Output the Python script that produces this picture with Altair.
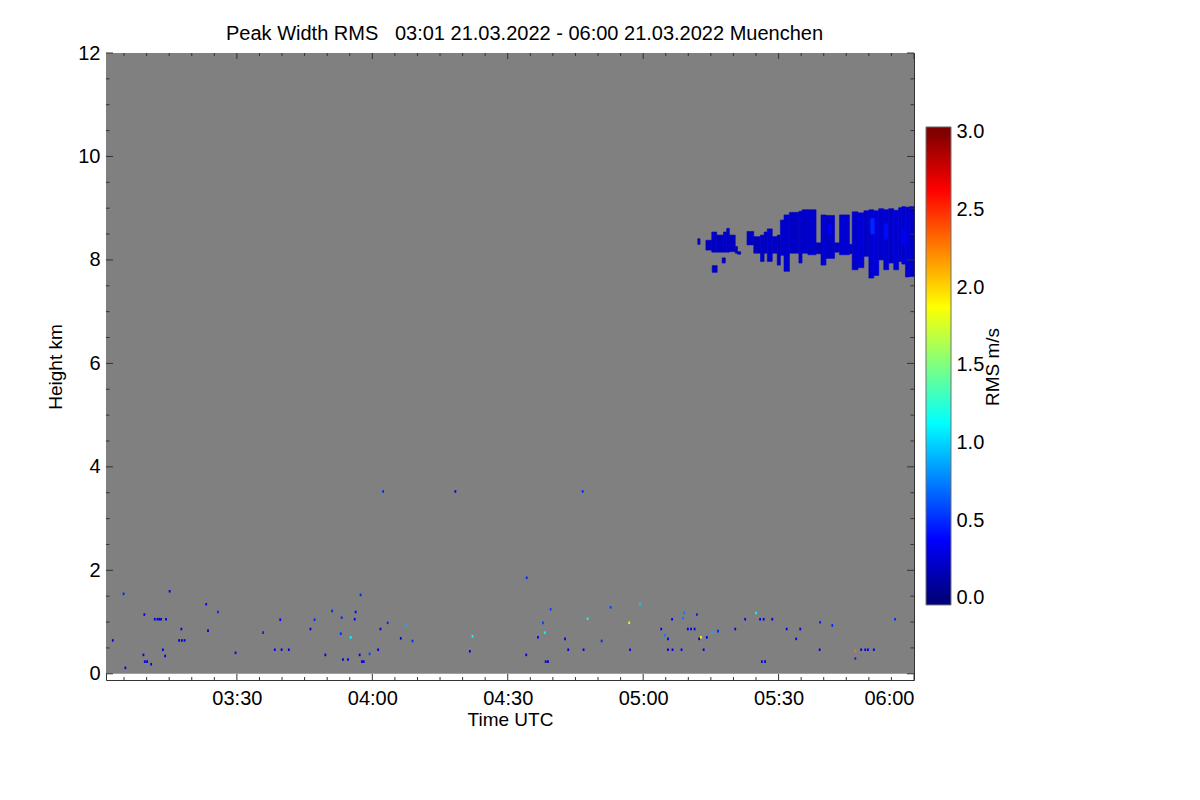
import altair as alt
import pandas as pd

# ---------------- data (time in minutes after 03:00 UTC, height in km) ----------------
TITLE = "Peak Width RMS\u00a0\u00a0\u00a003:01 21.03.2022 - 06:00 21.03.2022 Muenchen"

t_start, t_end = 1, 180          # 03:01 .. 06:00
h_min, h_max = -0.12, 12.0

# cirrus cloud columns near 8-9 km (start, end, base, top, RMS value)
cloud_t0 = [132.1, 133.9, 135.2, 136.3, 137.8, 138.5, 139.1, 140.4, 140.9, 137.5, 135.3,
            143.0, 144.5, 146.0, 146.8, 147.5, 148.6, 149.7, 150.4, 151.2, 152.4, 154.5, 155.2,
            156.5, 158.3, 159.4, 160.5, 162.4, 163.5, 165.7,
            166.3, 167.6, 168.9, 170.0, 171.1, 172.2, 173.3, 174.4, 175.5, 176.6, 177.3, 178.1, 179.0,
            161.0, 170.4, 173.5, 177.5]
cloud_t1 = [132.6, 135.2, 136.3, 137.8, 138.5, 139.1, 140.4, 140.9, 141.6, 138.2, 136.4,
            144.5, 146.0, 146.8, 147.5, 148.6, 149.7, 150.4, 151.2, 152.4, 154.5, 155.2, 156.5,
            158.3, 159.4, 160.5, 162.4, 163.5, 165.7, 166.3,
            167.6, 168.9, 170.0, 171.1, 172.2, 173.3, 174.4, 175.5, 176.6, 177.3, 178.1, 179.0, 180.0,
            161.7, 171.2, 174.2, 178.2]
cloud_bot = [8.30, 8.19, 8.15, 8.15, 8.15, 8.15, 8.16, 8.13, 8.11, 7.94, 7.76,
             8.29, 8.13, 7.97, 8.13, 7.97, 8.13, 7.90, 8.09, 7.78, 8.13, 7.94, 8.13,
             8.10, 8.12, 7.90, 8.03, 8.15, 8.10, 8.12,
             7.81, 7.85, 8.07, 7.65, 7.70, 8.00, 7.81, 7.94, 7.81, 7.97, 7.92, 7.67, 7.68,
             8.50, 8.50, 8.40, 8.30]
cloud_top = [8.41, 8.38, 8.54, 8.48, 8.54, 8.61, 8.48, 8.26, 8.16, 8.04, 7.89,
             8.55, 8.45, 8.48, 8.54, 8.60, 8.45, 8.48, 8.77, 8.87, 8.92, 8.94, 8.97,
             8.97, 8.33, 8.87, 8.86, 8.33, 8.87, 8.30,
             8.93, 8.91, 8.95, 8.97, 8.95, 8.99, 8.97, 8.99, 8.96, 9.01, 9.03, 9.02, 9.03,
             8.70, 8.80, 8.70, 8.60]
cloud_val = [0.21, 0.19, 0.22, 0.20, 0.23, 0.21, 0.19, 0.20, 0.18, 0.21, 0.20,
             0.21, 0.19, 0.22, 0.20, 0.23, 0.21, 0.19, 0.22, 0.23, 0.21, 0.24, 0.22,
             0.23, 0.20, 0.24, 0.22, 0.21, 0.25, 0.20,
             0.23, 0.26, 0.22, 0.24, 0.27, 0.23, 0.25, 0.22, 0.26, 0.24, 0.23, 0.25, 0.22,
             0.36, 0.40, 0.38, 0.36]

# scattered boundary-layer returns
dot_t = [4.7, 14.9, 2.3, 5.1, 9.3, 11.6, 12.2, 12.6, 13.0, 14.1, 9.1, 9.4, 9.9, 10.8, 13.4, 13.9,
         17.5, 17.0, 17.6, 18.2, 23.0, 23.4, 25.6, 29.5, 35.6, 39.4, 38.2, 39.7, 41.3, 46.1, 47.0,
         49.4, 50.9, 53.0, 52.8, 55.0, 53.3, 54.4, 56.1, 55.9, 57.2, 57.0, 57.5, 57.9, 59.2, 61.1,
         61.6, 63.2, 66.1, 67.2, 68.7, 81.4, 82.0, 62.2, 78.2, 106.4,
         94.0, 93.9, 99.3, 97.6, 96.5, 98.0, 98.2, 98.7, 102.5, 103.2, 106.6, 107.5, 110.6, 112.6,
         116.7, 116.9, 119.1, 123.8, 124.6, 125.3, 125.3, 126.3, 128.3, 126.2, 128.6, 128.9, 129.7,
         130.4, 131.2, 131.7, 132.2, 132.6, 133.2, 133.9, 135.1, 136.4, 140.2, 142.4, 144.8, 145.7,
         146.5, 148.4, 146.1, 146.8, 151.6, 153.7, 154.6, 158.9, 159.0, 161.7, 166.8, 166.8, 168.1,
         169.0, 169.6, 170.9, 175.6]
dot_h = [1.52, 1.57, 0.62, 0.09, 1.12, 1.03, 1.03, 1.03, 1.03, 1.03, 0.34, 0.21, 0.21, 0.16, 0.44, 0.32,
         0.84, 0.62, 0.62, 0.62, 1.32, 0.81, 1.17, 0.38, 0.77, 1.02, 0.44, 0.44, 0.44, 0.84, 1.02,
         0.34, 1.19, 1.06, 0.75, 0.68, 0.25, 0.25, 1.17, 1.03, 1.50, 0.34, 0.21, 0.21, 0.36, 0.44,
         0.84, 0.96, 0.66, 0.92, 0.61, 0.41, 0.70, 3.50, 3.50, 3.50,
         1.83, 0.34, 1.22, 0.96, 0.68, 0.77, 0.21, 0.21, 0.65, 0.44, 0.44, 1.04, 0.61, 1.26,
         0.96, 0.44, 1.32, 0.84, 0.72, 0.65, 0.44, 0.44, 0.44, 1.03, 1.05, 1.15, 0.84,
         0.84, 0.84, 1.12, 0.65, 0.68, 0.44, 0.68, 0.77, 0.80, 0.84, 1.03, 1.15, 1.03,
         1.03, 1.03, 0.21, 0.21, 0.84, 0.65, 0.84, 0.44, 0.97, 0.91, 0.42, 0.27, 0.44,
         0.44, 0.44, 0.44, 1.03]
dot_v = [0.40, 0.35, 0.35, 0.30, 0.35, 0.30, 0.30, 0.30, 0.30, 0.30, 0.30, 0.30, 0.30, 0.35, 0.30, 0.35,
         0.30, 0.30, 0.30, 0.30, 0.35, 0.35, 0.40, 0.35, 0.40, 0.35, 0.30, 0.30, 0.30, 0.30, 0.40,
         0.30, 0.40, 0.40, 0.40, 1.15, 0.30, 0.30, 0.35, 0.30, 0.40, 0.30, 0.30, 0.30, 0.45, 0.30,
         0.30, 0.40, 0.30, 0.80, 0.40, 0.30, 1.20, 0.40, 0.30, 0.40,
         0.40, 0.30, 0.45, 0.45, 0.35, 1.10, 0.25, 0.25, 0.30, 0.30, 0.30, 1.15, 0.40, 0.45,
         1.95, 0.30, 0.90, 0.30, 0.60, 0.30, 0.30, 0.30, 0.30, 0.35, 0.60, 0.60, 0.30,
         0.30, 0.30, 0.40, 0.30, 1.90, 0.30, 0.30, 0.80, 0.40, 0.30, 0.35, 1.30, 0.30,
         0.30, 0.25, 0.30, 0.30, 0.30, 0.25, 0.30, 0.30, 0.40, 0.40, 2.40, 0.40, 0.30,
         0.30, 0.30, 0.30, 0.40]

# tick positions
x_label_ticks = [30, 60, 90, 120, 150, 180]
x_minor_ticks = [m for m in range(5, 181, 5) if m % 30 != 0]
y_label_ticks = [0, 2, 4, 6, 8, 10, 12]
y_minor_ticks = [1, 3, 5, 7, 9, 11, 0.5, 1.5, 2.5, 3.5, 4.5, 5.5, 6.5, 7.5, 8.5, 9.5, 10.5, 11.5]
cb_labels = [0.0, 0.5, 1.0, 1.5, 2.0, 2.5, 3.0]

# colour table (jet-like)
jet_domain = [0.0, 0.375, 1.125, 1.875, 2.625, 3.0]
jet_colors = ["#00007f", "#0000ff", "#00ffff", "#ffff00", "#ff0000", "#7f0000"]
cb_lo, cb_hi = -0.045, 3.032

# ---------------- chart ----------------
FONT = "Liberation Sans"
LBL = 20
TTL = 19
W, H = 808, 627
FRAME = "#333333"

xs = alt.Scale(domain=[t_start, t_end], nice=False, zero=False)
ys = alt.Scale(domain=[h_min, h_max], nice=False, zero=False)
cs = alt.Scale(domain=jet_domain, range=jet_colors, clamp=True)

x_axis = alt.Axis(values=x_label_ticks, ticks=False, domain=False, grid=False,
                  labelExpr="'0' + floor(3 + datum.value / 60) + ':' + (datum.value % 60 == 0 ? '00' : '30')",
                  title="Time UTC", labelFontSize=LBL, titleFontSize=TTL, labelPadding=8,
                  titlePadding=2, titleFontWeight="normal", labelFont=FONT, titleFont=FONT,
                  labelColor="black", titleColor="black")
y_axis = alt.Axis(values=y_label_ticks, ticks=False, domain=False, grid=False, format="d",
                  title="Height km", labelFontSize=LBL, titleFontSize=TTL, labelPadding=6,
                  titlePadding=12, titleFontWeight="normal", labelFont=FONT, titleFont=FONT,
                  labelColor="black", titleColor="black")

bg_df = pd.DataFrame({"t0": [t_start], "t1": [t_end], "b": [0.0], "top": [h_max]})
cloud_df = pd.DataFrame({"t0": cloud_t0, "t1": cloud_t1, "b": cloud_bot, "top": cloud_top, "v": cloud_val})
dots_df = pd.DataFrame({"t0": dot_t, "b": dot_h, "v": dot_v})

bg = alt.Chart(bg_df).mark_rect(color="#808080").encode(
    x=alt.X("t0:Q", scale=xs, axis=x_axis),
    x2="t1:Q",
    y=alt.Y("b:Q", scale=ys, axis=y_axis),
    y2="top:Q",
)

cloud = alt.Chart(cloud_df).mark_rect(strokeWidth=0.6).encode(
    x=alt.X("t0:Q", scale=xs, axis=x_axis),
    x2="t1:Q",
    y=alt.Y("b:Q", scale=ys, axis=y_axis),
    y2="top:Q",
    color=alt.Color("v:Q", scale=cs, legend=None),
    stroke=alt.Stroke("v:Q", scale=cs, legend=None),
)

dots = alt.Chart(dots_df).transform_calculate(
    t1="datum.t0 + 0.4", top="datum.b + 0.05"
).mark_rect().encode(
    x=alt.X("t0:Q", scale=xs, axis=x_axis),
    x2="t1:Q",
    y=alt.Y("b:Q", scale=ys, axis=y_axis),
    y2="top:Q",
    color=alt.Color("v:Q", scale=cs, legend=None),
)


def yticks(vals, x0, x1):
    return alt.Chart(pd.DataFrame({"v": vals})).mark_rule(color=FRAME, strokeWidth=1).encode(
        y=alt.Y("v:Q", scale=ys, axis=y_axis), x=alt.value(x0), x2=alt.value(x1))


def xticks(vals, y0, y1):
    return alt.Chart(pd.DataFrame({"v": vals})).mark_rule(color=FRAME, strokeWidth=1).encode(
        x=alt.X("v:Q", scale=xs, axis=x_axis), y=alt.value(y0), y2=alt.value(y1))


ticks = [
    yticks(y_label_ticks, 0, 7), yticks(y_minor_ticks, 0, 3.5),
    yticks(y_label_ticks, W, W - 7), yticks(y_minor_ticks, W, W - 3.5),
    xticks(x_label_ticks, H, H - 6), xticks(x_minor_ticks, H, H - 3),
    xticks(x_label_ticks, 0, 6), xticks(x_minor_ticks, 0, 3),
]

main = alt.layer(bg, cloud, dots, *ticks).properties(width=W, height=H)

# colour bar
grad_stops = [alt.GradientStop(color=jet_colors[0], offset=0)]
for v, c in zip(jet_domain, jet_colors):
    grad_stops.append(alt.GradientStop(color=c, offset=(v - cb_lo) / (cb_hi - cb_lo)))
grad_stops.append(alt.GradientStop(color=jet_colors[-1], offset=1))

cb_scale = alt.Scale(domain=[-0.528, 3.508], nice=False, zero=False)
cb_df = pd.DataFrame({"lo": [cb_lo], "hi": [cb_hi]})
colorbar = alt.Chart(cb_df).mark_rect(
    color=alt.Gradient(gradient="linear", stops=grad_stops, x1=0, x2=0, y1=1, y2=0),
    stroke="#707070", strokeWidth=1,
).encode(
    y=alt.Y("lo:Q", scale=cb_scale,
            axis=alt.Axis(orient="right", values=cb_labels, format=".1f", ticks=False,
                          domain=False, grid=False, labelFontSize=LBL, labelFont=FONT,
                          labelColor="black", labelPadding=5, title="RMS m/s",
                          titleFontSize=TTL, titleFont=FONT, titleFontWeight="normal",
                          titleColor="black", titleAngle=270, titleBaseline="top",
                          titlePadding=0)),
    y2="hi:Q",
    x=alt.value(0), x2=alt.value(25),
).properties(width=25, height=H, view=alt.ViewBackground(strokeOpacity=0))

chart = alt.hconcat(main, colorbar, spacing=10).properties(
    title=alt.TitleParams(TITLE, fontSize=20, font=FONT, fontWeight="normal", color="black",
                          anchor="middle", offset=-1),
    padding={"left": 38, "top": 15, "right": 5, "bottom": 5},
    background="white",
).configure_view(stroke=FRAME, strokeWidth=1)

chart.save("out.html", embed_options={"renderer": "svg", "actions": False})
